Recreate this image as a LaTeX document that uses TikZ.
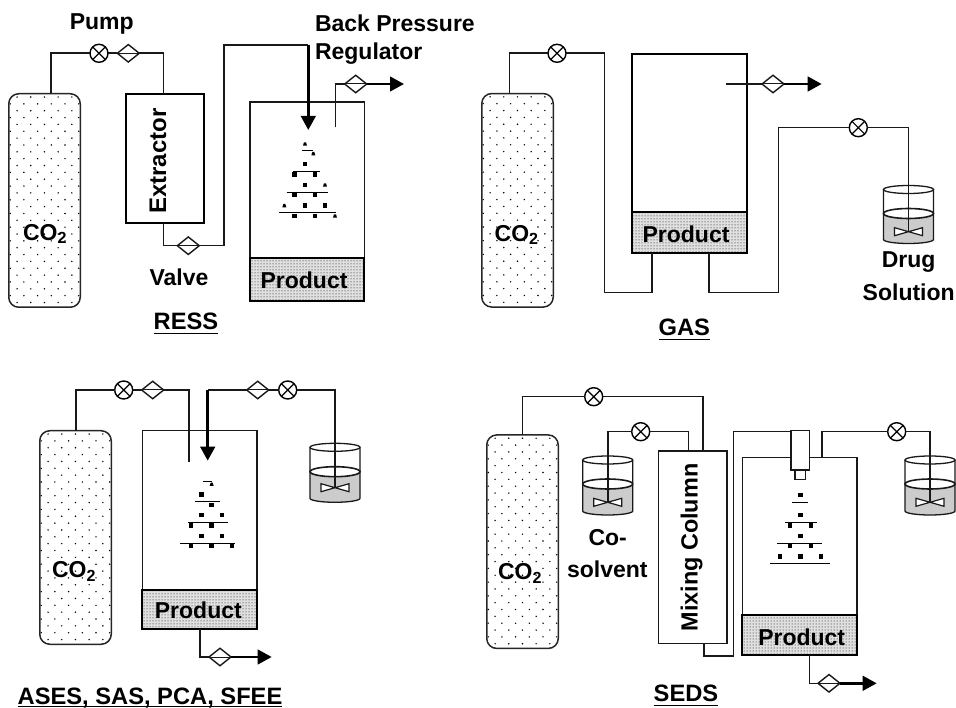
\documentclass[tikz,border=0pt]{standalone}
\usepackage{fontspec}
\setmainfont{Liberation Sans}
\usetikzlibrary{arrows.meta,calc,patterns,shapes.geometric}
\newcommand\titleline[1]{\underline{\smash{#1}\rule[-2pt]{0pt}{2pt}}}
\tikzset{
  lab/.style={inner sep=0pt,outer sep=0pt,font=\fontsize{23}{27}\selectfont\bfseries,text=black},
  ttl/.style={inner sep=0pt,outer sep=0pt,anchor=base,font=\fontsize{23.7}{27}\selectfont\bfseries,text=black},
  pipe/.style={line width=1.6pt,draw=black!90},
  flow/.style={line width=2.8pt,draw=black,-{Triangle[length=14pt,width=14.5pt]}},
  bottle/.style={draw=black!85,line width=1.5pt,rounded corners=10pt,minimum width=71.5pt,minimum height=213.5pt,inner sep=0pt,outer sep=0pt,
    path picture={
      \foreach \r in {0,...,31}{
        \pgfmathsetmacro\off{mod(\r,2)==0 ? 8.3 : 1.45}
        \foreach \c in {0,...,5}{
          \fill[black] ([shift={(\c*13.7+\off,\r*6.85+3.3)}]path picture bounding box.north west) circle (.8pt);
        }}}},
  vessel/.style={draw=black!90,line width=1.6pt,inner sep=0pt,outer sep=0pt},
  prod/.style={draw=black,line width=2pt,inner sep=0pt,outer sep=0pt,preaction={fill=black!12},pattern=dots,pattern color=black},
  pumpnode/.style={circle,draw=black,fill=white,line width=1.4pt,minimum size=18pt,inner sep=0pt,outer sep=0pt,
    path picture={\draw[line width=1.2pt] (path picture bounding box.north west)--(path picture bounding box.south east)
      (path picture bounding box.north east)--(path picture bounding box.south west);}},
  valvenode/.style={diamond,draw=black!90,fill=white,line width=1.4pt,minimum width=22pt,minimum height=17.5pt,inner sep=0pt,outer sep=0pt,
    path picture={\draw[line width=1pt] (path picture bounding box.west)--(path picture bounding box.east);}},
}
% spray cone drawn in 3x crop units
\newcommand\spraycone[4]{%
  \begin{scope}[shift={(#1)},x=.33333pt,y=-.33333pt]
    \foreach \a/\b in {#2}{\fill[black] (\a-6.5,\b-6.5) rectangle (\a+6.5,\b+6.5);}
    \foreach \a/\b in {#3}{\fill[black] (\a-3,\b-5) -- (\a+3,\b-5) -- (\a+6,\b+5) -- (\a-6,\b+5) -- cycle;}
    \foreach \a/\b/\c in {#4}{\draw[line width=1pt] (\a,\c) -- (\b,\c);}
  \end{scope}}
% beaker: name, centre x, top y, liquid y, bottom y, impeller y
\newcommand\beaker[6]{%
  \fill[black!20] (#2-25,#4) -- (#2-25,#5) arc[start angle=180,end angle=360,x radius=25pt,y radius=4pt] -- (#2+25,#4) arc[start angle=0,end angle=-180,x radius=25pt,y radius=5pt] -- cycle;
  \draw[line width=1.3pt,draw=black!90] (#2-25,#3) -- (#2-25,#5) arc[start angle=180,end angle=360,x radius=25pt,y radius=4pt] -- (#2+25,#3);
  \draw[line width=1.3pt,draw=black!90] (#2,#3) ellipse [x radius=25pt,y radius=4pt];
  \draw[line width=1.6pt,draw=black!90] (#2,#4) ellipse [x radius=25pt,y radius=5pt];
  \draw[line width=1.2pt,draw=black!90,fill=white] (#2-14,#6-4) -- (#2-14,#6+4) -- (#2+14,#6-4) -- (#2+14,#6+4) -- cycle;
  \coordinate (#1) at (#2,#6);}
\begin{document}
\begin{tikzpicture}[x=1pt,y=-1pt]
\useasboundingbox (0,0) rectangle (956,708);

%%%%%%%% RESS
\node[bottle] (cylA) at (44.5,200.5) {};
\node[lab] (co2A) at (45,234) {CO\textsubscript{2}};
\node[vessel,draw=black,line width=2pt,minimum width=78pt,minimum height=129pt] (extA) at (164.7,158.2) {};
\node[lab,rotate=90,font=\fontsize{24}{27}\selectfont\bfseries] (extAtxt) at (158,161) {Extractor};
\node[vessel,minimum width=114.5pt,minimum height=156pt] (chamA) at (307.2,180.2) {};
\node[prod,minimum width=114.5pt,minimum height=43pt] (prodA) at (307.2,279.5) {};
\node[lab] (prodAtxt) at (304,280) {Product};
\node[pumpnode] (pumpA) at (99,53.3) {};
\node[valvenode] (valA1) at (128.3,53.3) {};
\node[valvenode] (valA2) at (188.3,245.7) {};
\node[valvenode] (valA3) at (355.7,84) {};
\coordinate (bendA) at (224,45);
\coordinate (tipA) at (308.3,130);
\coordinate (outA) at (335.3,127.3);
\coordinate (endA) at (404,84);
\draw[pipe] ([xshift=6.5pt]cylA.north) |- (pumpA);
\draw[pipe] (pumpA) -- (valA1);
\draw[pipe] (valA1) -| ([xshift=-1.4pt]extA.north);
\draw[pipe] ([xshift=-1.4pt]extA.south) |- (valA2);
\draw[pipe] (valA2) -| (bendA) -- (bendA -| tipA);
\draw[flow] (bendA -| tipA) -- (tipA);
\draw[pipe] (outA) |- (valA3);
\draw[flow] (valA3) -- (endA);
\spraycone{0,0}{915/493,884/524,945/524,915/555,884/586,945/586,915/617,976/617,884/648,945/648}{915/432,853/617,975/555,884/521,940/461,1005/648}{905/938/453,880/960/515,860/983/577,838/1008/638}
\node[lab] (pumpAtxt) at (101.7,24) {Pump};
\node[lab,anchor=west] (bprA) at (315,23) {Back Pressure};
\node[lab,anchor=west] (regA) at (315,54) {Regulator};
\node[lab] (valveAtxt) at (179,277) {Valve};
\node[ttl] (ttlA) at (186,330) {\titleline{RESS}};

%%%%%%%% GAS
\node[bottle] (cylB) at (517.5,200.3) {};
\node[lab] (co2B) at (516.7,235) {CO\textsubscript{2}};
\node[vessel,draw=black,line width=1.8pt,minimum width=115pt,minimum height=158.3pt] (chamB) at (689.2,133.2) {};
\node[prod,minimum width=115pt,minimum height=40.4pt] (prodB) at (689.2,232.5) {};
\node[lab] (prodBtxt) at (686,234) {Product};
\beaker{impB}{908.5}{189.5}{213.5}{239.5}{231.7}
\node[pumpnode] (pumpB1) at (557,53.3) {};
\node[pumpnode] (pumpB2) at (858.3,127.7) {};
\node[valvenode] (valB) at (773,84) {};
\coordinate (bendB1) at (604.3,292.7);
\coordinate (bendB2) at (778.3,292.7);
\coordinate (inB) at (726,84);
\coordinate (endB) at (821.7,84);
\draw[pipe] ([xshift=-8.2pt]cylB.north) |- (pumpB1);
\draw[pipe] (pumpB1) -| (bendB1) -| ([xshift=-37.2pt]prodB.south);
\draw[pipe] ([xshift=19.8pt]prodB.south) |- (bendB2) |- (pumpB2);
\draw[pipe] (pumpB2) -| (impB);
\draw[pipe,line width=1.1pt] (inB) -- (valB);
\draw[flow] (valB) -- (endB);
\node[lab] (drugB) at (908.7,261.7) {Drug};
\node[lab] (solB) at (908.7,292.7) {Solution};
\node[ttl] (ttlB) at (684.3,336) {\titleline{GAS}};

%%%%%%%% ASES
\node[bottle] (cylC) at (75.5,537.5) {};
\node[lab] (co2C) at (74,571.7) {CO\textsubscript{2}};
\node[vessel,minimum width=114.7pt,minimum height=159.3pt] (chamC) at (199.7,510.3) {};
\node[prod,minimum width=114.7pt,minimum height=39pt] (prodC) at (199.7,609.5) {};
\node[lab] (prodCtxt) at (198.3,610.7) {Product};
\beaker{impC}{335}{447.3}{471.7}{498.3}{487.7}
\node[pumpnode] (pumpC1) at (123.7,390) {};
\node[valvenode] (valC1) at (152.7,390) {};
\node[valvenode] (valC2) at (257.7,390) {};
\node[pumpnode] (pumpC2) at (287.7,390) {};
\node[valvenode] (valC3) at (220,657) {};
\coordinate (inC) at (188.7,462.3);
\coordinate (tipC) at (207.7,460.7);
\coordinate (endC) at (271.7,657);
\draw[pipe] ([xshift=.5pt]cylC.north) |- (pumpC1);
\draw[pipe] (pumpC1) -- (valC1);
\draw[pipe] (valC1) -| (inC);
\draw[pipe,line width=1.8pt] (valC2) -- (valC2 -| tipC);
\draw[flow] (valC2 -| tipC) -- (tipC);
\draw[pipe] (valC2) -- (pumpC2);
\draw[pipe] (pumpC2) -| (impC);
\draw[pipe] (prodC.south) |- (valC3);
\draw[flow] (valC3) -- (endC);
\spraycone{0,370}{605/374,635/405,605/436,666/436,573/467,635/467,605/498,666/498,573/529,635/529,697/529}{635/343}{608/635/335,585/660/396,563/684/458,540/705/520}
\node[ttl] (ttlC) at (150,704.5) {\underline{\smash{ASES, SAS, PCA, SFEE}}};

%%%%%%%% SEDS
\node[bottle] (cylD) at (522.5,541.7) {};
\node[lab] (co2D) at (520,573.3) {CO\textsubscript{2}};
\node[vessel,minimum width=68.4pt,minimum height=192.3pt] (mixD) at (692.5,547.2) {};
\node[lab,rotate=90,font=\fontsize{23.4}{27}\selectfont\bfseries] (mixDtxt) at (691.7,547.5) {Mixing Column};
\node[vessel,minimum width=114.4pt,minimum height=157.7pt] (chamD) at (799.5,536.2) {};
\node[prod,minimum width=114.4pt,minimum height=40pt] (prodD) at (799.5,635) {};
\node[lab] (prodDtxt) at (801.7,637.3) {Product};
\node[vessel,fill=white,minimum width=18.6pt,minimum height=39.3pt] (nozD) at (800,450.3) {};
\node[vessel,fill=white,minimum width=10.3pt,minimum height=9.3pt] (tipD) at (800.2,474.7) {};
\beaker{impD1}{607.7}{460}{484}{511}{502.3}
\beaker{impD2}{930}{460}{484}{511}{502.3}
\node[pumpnode] (pumpD1) at (593.7,396.7) {};
\node[pumpnode] (pumpD2) at (640.7,431.7) {};
\node[pumpnode] (pumpD3) at (896.7,431.7) {};
\node[valvenode] (valD) at (829,683.3) {};
\coordinate (bendD1) at (733.3,655.7);
\coordinate (bendD2) at (733.3,431.7);
\coordinate (endD) at (876.7,683.3);
\draw[pipe] (cylD.north) |- (pumpD1);
\draw[pipe] (pumpD1) -| ([xshift=10.2pt]mixD.north);
\draw[pipe] (impD1) |- (pumpD2);
\draw[pipe] (pumpD2) -| ([xshift=-4.2pt]mixD.north);
\draw[pipe] ([xshift=11.5pt]mixD.south) |- (bendD1) -- (bendD2) -- (bendD2 -| nozD.west);
\draw[pipe] ([xshift=22.5pt]chamD.north) |- (pumpD3);
\draw[pipe] (pumpD3) -| (impD2);
\draw[pipe] ([xshift=9.8pt]prodD.south) |- (valD);
\draw[flow] (valD) -- (endD);
\spraycone{470,380}{991/345,991/406,960/437,1022/437,991/468,960/499,1022/499,929/530,991/530,1053/530}{}{965/1015/367,945/1040/428,922/1057/490,900/1080/552}
\node[lab] (coD) at (607.7,537.3) {Co-};
\node[lab] (solvD) at (607.3,569.3) {solvent};
\node[ttl] (ttlD) at (686,701.5) {\titleline{SEDS}};
\end{tikzpicture}
\end{document}
